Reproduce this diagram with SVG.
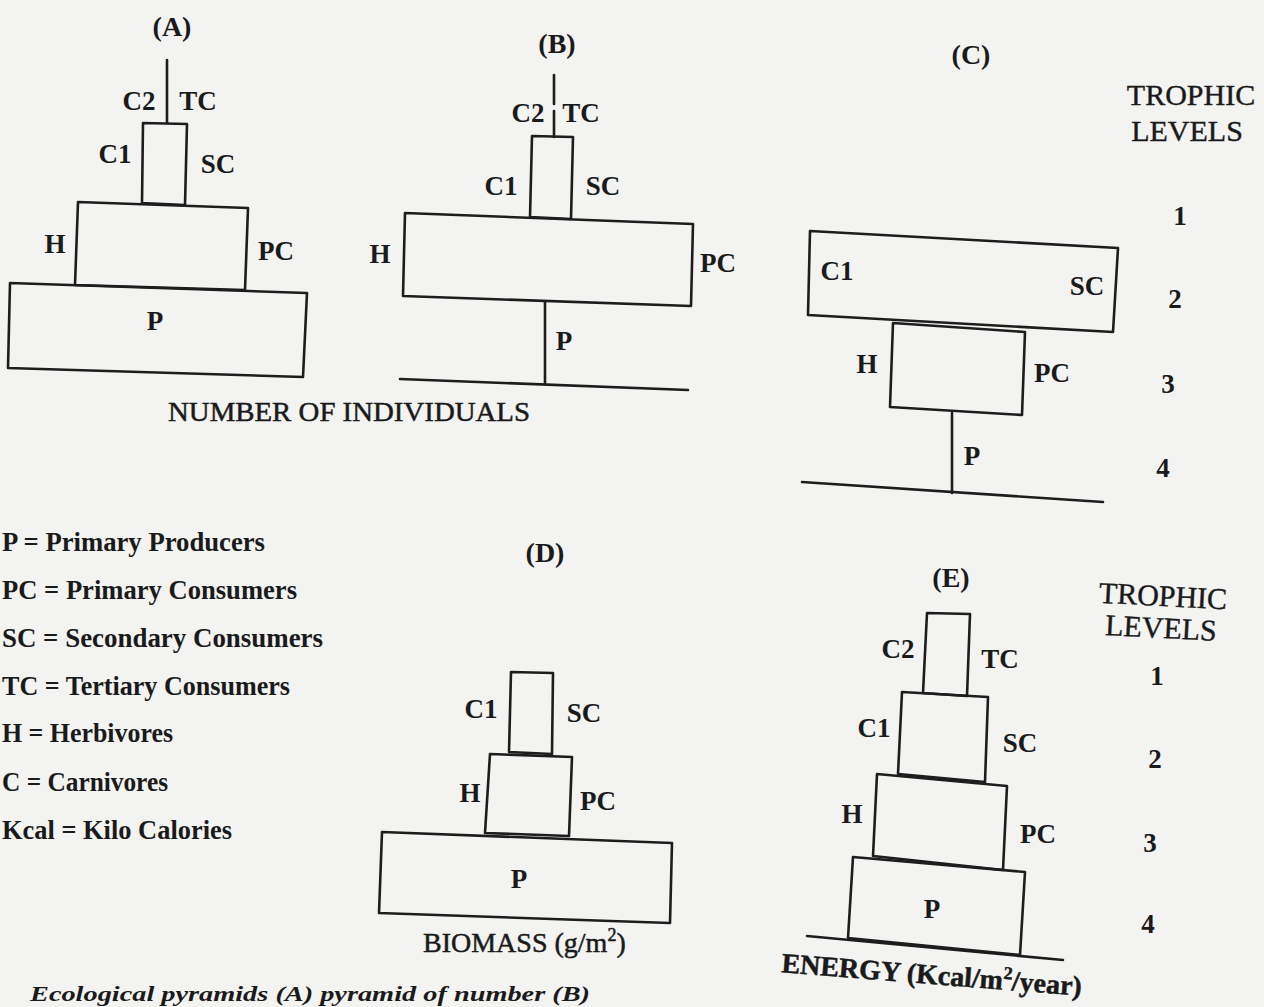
<svg xmlns="http://www.w3.org/2000/svg" width="1264" height="1007" viewBox="0 0 1264 1007">
<style>
.bx{fill:none;stroke:#1d1d1d;stroke-width:2.6;stroke-linejoin:round}
.ln{fill:none;stroke:#1d1d1d;stroke-width:2.6;stroke-linecap:round}
.lb{font-family:"Liberation Serif","Times New Roman",serif;font-weight:bold;font-size:27px;fill:#1a1a1a;text-anchor:middle}
.ti{font-family:"Liberation Serif","Times New Roman",serif;font-weight:bold;font-size:28px;fill:#1a1a1a;text-anchor:middle}
.cap{font-family:"Liberation Serif","Times New Roman",serif;font-size:28px;fill:#1a1a1a;stroke:#1a1a1a;stroke-width:0.5}
.tr{font-family:"Liberation Serif","Times New Roman",serif;font-size:30px;fill:#1a1a1a;stroke:#1a1a1a;stroke-width:0.4;text-anchor:middle}
.num{font-family:"Liberation Serif","Times New Roman",serif;font-weight:bold;font-size:27px;fill:#1a1a1a;text-anchor:middle}
.lg{font-family:"Liberation Serif","Times New Roman",serif;font-weight:bold;font-size:28px;fill:#1a1a1a}
</style>
<rect x="0" y="0" width="1264" height="1007" fill="#f3f3f1"/>

<g id="connectors">
  <line class="ln" x1="167" y1="60" x2="167" y2="123"/>
  <line class="ln" x1="554" y1="75" x2="554" y2="104"/>
  <line class="ln" x1="554" y1="111" x2="554" y2="137"/>
  <line class="ln" x1="545" y1="302" x2="545" y2="383"/>
  <line class="ln" x1="400" y1="379" x2="688" y2="390"/>
  <line class="ln" x1="952" y1="413" x2="952" y2="493"/>
  <line class="ln" x1="802" y1="482" x2="1103" y2="502"/>
  <line class="ln" x1="807" y1="936" x2="1063" y2="960"/>
</g>

<g id="pyramid-A">
  <text class="ti" x="172" y="36">(A)</text>
  <g id="A-tc"><text class="lb" x="139" y="110">C2</text><text class="lb" x="198" y="110">TC</text></g>
  <g id="A-sc"><polygon class="bx" points="143,123 187,124 185,205 142,203"/>
    <text class="lb" x="115" y="163">C1</text><text class="lb" x="218" y="173">SC</text></g>
  <g id="A-pc"><polygon class="bx" points="78,202 248,208 245,290 75,285"/>
    <text class="lb" x="55" y="253">H</text><text class="lb" x="276" y="260">PC</text></g>
  <g id="A-p"><polygon class="bx" points="10,283 307,293 303,377 8,368"/>
    <text class="lb" x="155" y="330">P</text></g>
  <text class="cap" x="168" y="421" textLength="362" lengthAdjust="spacingAndGlyphs">NUMBER OF INDIVIDUALS</text>
</g>

<g id="pyramid-B">
  <text class="ti" x="557" y="53">(B)</text>
  <g id="B-tc"><text class="lb" x="528" y="122">C2</text><text class="lb" x="581" y="122">TC</text></g>
  <g id="B-sc"><polygon class="bx" points="532,136 573,137 571,219 530,217"/>
    <text class="lb" x="501" y="195">C1</text><text class="lb" x="603" y="195">SC</text></g>
  <g id="B-pc"><polygon class="bx" points="405,213 693,224 691,306 403,296"/>
    <text class="lb" x="380" y="263">H</text><text class="lb" x="718" y="272">PC</text></g>
  <g id="B-p"><text class="lb" x="564" y="350">P</text></g>
</g>

<g id="pyramid-C">
  <text class="ti" x="971" y="64">(C)</text>
  <g id="C-levels">
    <text class="tr" x="1191" y="105">TROPHIC</text>
    <text class="tr" x="1187" y="141">LEVELS</text>
    <text class="num" x="1180" y="225">1</text>
    <text class="num" x="1175" y="308">2</text>
    <text class="num" x="1168" y="393">3</text>
    <text class="num" x="1163" y="477">4</text>
  </g>
  <g id="C-sc"><polygon class="bx" points="810,231 1118,248 1113,332 808,315"/>
    <text class="lb" x="837" y="280">C1</text><text class="lb" x="1087" y="295">SC</text></g>
  <g id="C-pc"><polygon class="bx" points="893,323 1025,332 1022,415 890,407"/>
    <text class="lb" x="867" y="373">H</text><text class="lb" x="1052" y="382">PC</text></g>
  <g id="C-p"><text class="lb" x="972" y="465">P</text></g>
</g>

<g id="legend">
  <text class="lg" x="2" y="551" textLength="263" lengthAdjust="spacingAndGlyphs">P = Primary Producers</text>
  <text class="lg" x="2" y="599" textLength="295" lengthAdjust="spacingAndGlyphs">PC = Primary Consumers</text>
  <text class="lg" x="2" y="647" textLength="321" lengthAdjust="spacingAndGlyphs">SC = Secondary Consumers</text>
  <text class="lg" x="2" y="695" textLength="288" lengthAdjust="spacingAndGlyphs">TC = Tertiary Consumers</text>
  <text class="lg" x="2" y="742" textLength="171" lengthAdjust="spacingAndGlyphs">H = Herbivores</text>
  <text class="lg" x="2" y="791" textLength="166" lengthAdjust="spacingAndGlyphs">C = Carnivores</text>
  <text class="lg" x="2" y="839" textLength="230" lengthAdjust="spacingAndGlyphs">Kcal = Kilo Calories</text>
</g>

<g id="pyramid-D">
  <text class="ti" x="545" y="562">(D)</text>
  <g id="D-sc"><polygon class="bx" points="511,672 553,673 552,754 509,752"/>
    <text class="lb" x="481" y="718">C1</text><text class="lb" x="584" y="722">SC</text></g>
  <g id="D-pc"><polygon class="bx" points="490,754 572,757 569,836 485,833"/>
    <text class="lb" x="470" y="802">H</text><text class="lb" x="598" y="810">PC</text></g>
  <g id="D-p"><polygon class="bx" points="382,832 672,843 670,923 379,913"/>
    <text class="lb" x="519" y="888">P</text></g>
  <text class="cap" x="423" y="952">BIOMASS (g/m<tspan font-size="18" dy="-11">2</tspan><tspan dy="11">)</tspan></text>
</g>

<g id="pyramid-E">
  <text class="ti" x="951" y="587">(E)</text>
  <g id="E-levels">
    <text class="tr" x="1163" y="606" transform="rotate(3 1163 596)">TROPHIC</text>
    <text class="tr" x="1161" y="638" transform="rotate(3 1161 628)">LEVELS</text>
    <text class="num" x="1157" y="685">1</text>
    <text class="num" x="1155" y="768">2</text>
    <text class="num" x="1150" y="852">3</text>
    <text class="num" x="1148" y="933">4</text>
  </g>
  <g id="E-tc"><polygon class="bx" points="927,613 970,614 967,696 923,693"/>
    <text class="lb" x="898" y="658">C2</text><text class="lb" x="1000" y="668">TC</text></g>
  <g id="E-sc"><polygon class="bx" points="902,692 988,697 985,782 898,774"/>
    <text class="lb" x="874" y="737">C1</text><text class="lb" x="1020" y="752">SC</text></g>
  <g id="E-pc"><polygon class="bx" points="877,774 1007,786 1003,870 873,856"/>
    <text class="lb" x="852" y="823">H</text><text class="lb" x="1038" y="843">PC</text></g>
  <g id="E-p"><polygon class="bx" points="853,857 1025,872 1020,955 848,938"/>
    <text class="lb" x="932" y="918">P</text></g>
  <text class="cap" font-weight="bold" x="931" y="984" text-anchor="middle" transform="rotate(4.5 931 984)">ENERGY (Kcal/m<tspan font-size="18" dy="-11">2</tspan><tspan dy="11">/year)</tspan></text>
</g>

<text x="30" y="1001" font-family="'Liberation Serif','Times New Roman',serif" font-style="italic" font-weight="bold" font-size="20" fill="#1a1a1a" textLength="560" lengthAdjust="spacingAndGlyphs">Ecological pyramids (A) pyramid of number (B)</text>
</svg>
